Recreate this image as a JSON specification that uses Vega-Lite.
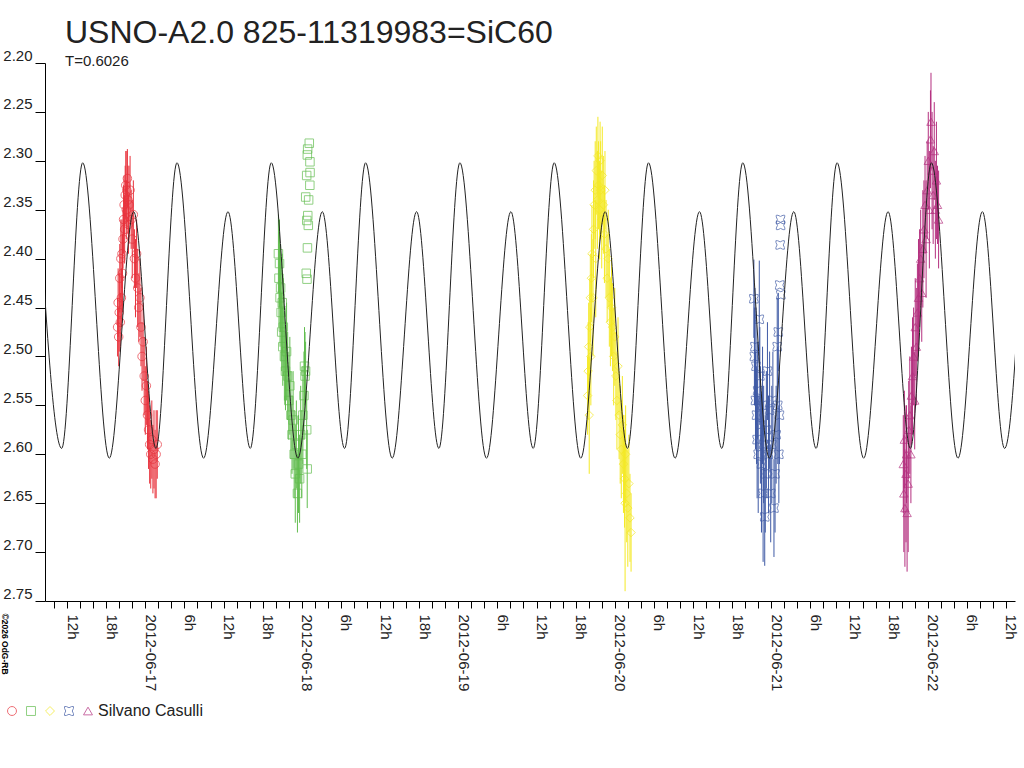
{
  "$schema": "https://vega.github.io/schema/vega-lite/v6.json",
  "width": 970,
  "height": 538,
  "autosize": "none",
  "padding": {"left": 45, "top": 63, "right": 9, "bottom": 167},
  "background": "white",
  "config": {"view": {"stroke": null}, "legend": {"columnPadding": 1, "labelOffset": 2, "symbolStrokeWidth": 1}},
  "title": {
    "text": "USNO-A2.0 825-11319983=SiC60",
    "subtitle": "T=0.6026",
    "anchor": "start",
    "frame": "group",
    "dx": 20,
    "offset": -22,
    "font": "Liberation Sans",
    "fontSize": 32,
    "fontWeight": "normal",
    "color": "#222",
    "subtitleFont": "Liberation Sans",
    "subtitleFontSize": 15,
    "subtitleColor": "#222",
    "subtitlePadding": 4
  },
  "datasets": {
    "curve": [
      {"t": "2012-06-16T07:45:30Z", "mag": 2.352},
      {"t": "2012-06-16T11:10:40Z", "mag": 2.594},
      {"t": "2012-06-16T14:23:54Z", "mag": 2.302},
      {"t": "2012-06-16T18:28:42Z", "mag": 2.604},
      {"t": "2012-06-16T22:13:12Z", "mag": 2.352},
      {"t": "2012-06-17T01:38:24Z", "mag": 2.594},
      {"t": "2012-06-17T04:51:38Z", "mag": 2.302},
      {"t": "2012-06-17T08:56:26Z", "mag": 2.604},
      {"t": "2012-06-17T12:40:56Z", "mag": 2.352},
      {"t": "2012-06-17T16:06:08Z", "mag": 2.594},
      {"t": "2012-06-17T19:19:23Z", "mag": 2.302},
      {"t": "2012-06-17T23:24:11Z", "mag": 2.604},
      {"t": "2012-06-18T03:08:41Z", "mag": 2.352},
      {"t": "2012-06-18T06:33:53Z", "mag": 2.594},
      {"t": "2012-06-18T09:47:07Z", "mag": 2.302},
      {"t": "2012-06-18T13:51:55Z", "mag": 2.604},
      {"t": "2012-06-18T17:36:25Z", "mag": 2.352},
      {"t": "2012-06-18T21:01:37Z", "mag": 2.594},
      {"t": "2012-06-19T00:14:52Z", "mag": 2.302},
      {"t": "2012-06-19T04:19:40Z", "mag": 2.604},
      {"t": "2012-06-19T08:04:10Z", "mag": 2.352},
      {"t": "2012-06-19T11:29:22Z", "mag": 2.594},
      {"t": "2012-06-19T14:42:36Z", "mag": 2.302},
      {"t": "2012-06-19T18:47:24Z", "mag": 2.604},
      {"t": "2012-06-19T22:31:54Z", "mag": 2.352},
      {"t": "2012-06-20T01:57:06Z", "mag": 2.594},
      {"t": "2012-06-20T05:10:20Z", "mag": 2.302},
      {"t": "2012-06-20T09:15:08Z", "mag": 2.604},
      {"t": "2012-06-20T12:59:38Z", "mag": 2.352},
      {"t": "2012-06-20T16:24:50Z", "mag": 2.594},
      {"t": "2012-06-20T19:38:05Z", "mag": 2.302},
      {"t": "2012-06-20T23:42:53Z", "mag": 2.604},
      {"t": "2012-06-21T03:27:23Z", "mag": 2.352},
      {"t": "2012-06-21T06:52:35Z", "mag": 2.594},
      {"t": "2012-06-21T10:05:49Z", "mag": 2.302},
      {"t": "2012-06-21T14:10:37Z", "mag": 2.604},
      {"t": "2012-06-21T17:55:07Z", "mag": 2.352},
      {"t": "2012-06-21T21:20:19Z", "mag": 2.594},
      {"t": "2012-06-22T00:33:34Z", "mag": 2.302},
      {"t": "2012-06-22T04:38:22Z", "mag": 2.604},
      {"t": "2012-06-22T08:22:52Z", "mag": 2.352},
      {"t": "2012-06-22T11:47:04Z", "mag": 2.594},
      {"t": "2012-06-22T15:01:18Z", "mag": 2.302}
    ],
    "obs": [
      {"obs": "N1", "t": "2012-06-16T19:45:00Z", "mag": 2.470, "lo": 2.440, "hi": 2.500},
      {"obs": "N1", "t": "2012-06-16T19:50:00Z", "mag": 2.445, "lo": 2.410, "hi": 2.480},
      {"obs": "N1", "t": "2012-06-16T19:55:00Z", "mag": 2.480, "lo": 2.450, "hi": 2.510},
      {"obs": "N1", "t": "2012-06-16T20:00:00Z", "mag": 2.455, "lo": 2.415, "hi": 2.495},
      {"obs": "N1", "t": "2012-06-16T20:05:00Z", "mag": 2.420, "lo": 2.385, "hi": 2.455},
      {"obs": "N1", "t": "2012-06-16T20:10:00Z", "mag": 2.465, "lo": 2.435, "hi": 2.495},
      {"obs": "N1", "t": "2012-06-16T20:15:00Z", "mag": 2.400, "lo": 2.360, "hi": 2.440},
      {"obs": "N1", "t": "2012-06-16T20:20:00Z", "mag": 2.440, "lo": 2.410, "hi": 2.470},
      {"obs": "N1", "t": "2012-06-16T20:25:00Z", "mag": 2.395, "lo": 2.360, "hi": 2.430},
      {"obs": "N1", "t": "2012-06-16T20:30:00Z", "mag": 2.415, "lo": 2.375, "hi": 2.455},
      {"obs": "N1", "t": "2012-06-16T20:35:00Z", "mag": 2.380, "lo": 2.350, "hi": 2.410},
      {"obs": "N1", "t": "2012-06-16T20:40:00Z", "mag": 2.360, "lo": 2.325, "hi": 2.395},
      {"obs": "N1", "t": "2012-06-16T20:45:00Z", "mag": 2.345, "lo": 2.315, "hi": 2.375},
      {"obs": "N1", "t": "2012-06-16T20:50:00Z", "mag": 2.370, "lo": 2.335, "hi": 2.405},
      {"obs": "N1", "t": "2012-06-16T20:55:00Z", "mag": 2.335, "lo": 2.305, "hi": 2.365},
      {"obs": "N1", "t": "2012-06-16T21:00:00Z", "mag": 2.325, "lo": 2.290, "hi": 2.360},
      {"obs": "N1", "t": "2012-06-16T21:05:00Z", "mag": 2.350, "lo": 2.320, "hi": 2.380},
      {"obs": "N1", "t": "2012-06-16T21:10:00Z", "mag": 2.330, "lo": 2.290, "hi": 2.370},
      {"obs": "N1", "t": "2012-06-16T21:15:00Z", "mag": 2.318, "lo": 2.288, "hi": 2.348},
      {"obs": "N1", "t": "2012-06-16T21:20:00Z", "mag": 2.340, "lo": 2.305, "hi": 2.375},
      {"obs": "N1", "t": "2012-06-16T21:25:00Z", "mag": 2.365, "lo": 2.335, "hi": 2.395},
      {"obs": "N1", "t": "2012-06-16T21:30:00Z", "mag": 2.345, "lo": 2.305, "hi": 2.385},
      {"obs": "N1", "t": "2012-06-16T21:40:00Z", "mag": 2.330, "lo": 2.295, "hi": 2.365},
      {"obs": "N1", "t": "2012-06-16T21:50:00Z", "mag": 2.360, "lo": 2.330, "hi": 2.390},
      {"obs": "N1", "t": "2012-06-16T22:00:00Z", "mag": 2.380, "lo": 2.340, "hi": 2.420},
      {"obs": "N1", "t": "2012-06-16T22:10:00Z", "mag": 2.355, "lo": 2.320, "hi": 2.390},
      {"obs": "N1", "t": "2012-06-16T22:20:00Z", "mag": 2.400, "lo": 2.370, "hi": 2.430},
      {"obs": "N1", "t": "2012-06-16T22:30:00Z", "mag": 2.420, "lo": 2.380, "hi": 2.460},
      {"obs": "N1", "t": "2012-06-16T22:40:00Z", "mag": 2.395, "lo": 2.360, "hi": 2.430},
      {"obs": "N1", "t": "2012-06-16T22:50:00Z", "mag": 2.430, "lo": 2.390, "hi": 2.470},
      {"obs": "N1", "t": "2012-06-16T23:00:00Z", "mag": 2.450, "lo": 2.415, "hi": 2.485},
      {"obs": "N1", "t": "2012-06-16T23:10:00Z", "mag": 2.440, "lo": 2.400, "hi": 2.480},
      {"obs": "N1", "t": "2012-06-16T23:20:00Z", "mag": 2.470, "lo": 2.430, "hi": 2.510},
      {"obs": "N1", "t": "2012-06-16T23:30:00Z", "mag": 2.500, "lo": 2.465, "hi": 2.535},
      {"obs": "N1", "t": "2012-06-16T23:40:00Z", "mag": 2.485, "lo": 2.445, "hi": 2.525},
      {"obs": "N1", "t": "2012-06-16T23:50:00Z", "mag": 2.520, "lo": 2.480, "hi": 2.560},
      {"obs": "N1", "t": "2012-06-17T00:00:00Z", "mag": 2.545, "lo": 2.510, "hi": 2.580},
      {"obs": "N1", "t": "2012-06-17T00:10:00Z", "mag": 2.530, "lo": 2.490, "hi": 2.570},
      {"obs": "N1", "t": "2012-06-17T00:20:00Z", "mag": 2.560, "lo": 2.525, "hi": 2.595},
      {"obs": "N1", "t": "2012-06-17T00:30:00Z", "mag": 2.575, "lo": 2.535, "hi": 2.615},
      {"obs": "N1", "t": "2012-06-17T00:40:00Z", "mag": 2.590, "lo": 2.550, "hi": 2.630},
      {"obs": "N1", "t": "2012-06-17T00:50:00Z", "mag": 2.600, "lo": 2.565, "hi": 2.635},
      {"obs": "N1", "t": "2012-06-17T01:00:00Z", "mag": 2.585, "lo": 2.545, "hi": 2.625},
      {"obs": "N1", "t": "2012-06-17T01:10:00Z", "mag": 2.605, "lo": 2.570, "hi": 2.640},
      {"obs": "N1", "t": "2012-06-17T01:20:00Z", "mag": 2.595, "lo": 2.555, "hi": 2.635},
      {"obs": "N1", "t": "2012-06-17T01:30:00Z", "mag": 2.610, "lo": 2.575, "hi": 2.645},
      {"obs": "N1", "t": "2012-06-17T01:40:00Z", "mag": 2.600, "lo": 2.555, "hi": 2.645},
      {"obs": "N1", "t": "2012-06-17T01:50:00Z", "mag": 2.590, "lo": 2.555, "hi": 2.625},
      {"obs": "N2", "t": "2012-06-17T20:25:00Z", "mag": 2.395, "lo": 2.355, "hi": 2.435},
      {"obs": "N2", "t": "2012-06-17T20:30:00Z", "mag": 2.420, "lo": 2.370, "hi": 2.470},
      {"obs": "N2", "t": "2012-06-17T20:35:00Z", "mag": 2.405, "lo": 2.360, "hi": 2.450},
      {"obs": "N2", "t": "2012-06-17T20:40:00Z", "mag": 2.440, "lo": 2.390, "hi": 2.490},
      {"obs": "N2", "t": "2012-06-17T20:45:00Z", "mag": 2.430, "lo": 2.385, "hi": 2.475},
      {"obs": "N2", "t": "2012-06-17T20:50:00Z", "mag": 2.455, "lo": 2.405, "hi": 2.505},
      {"obs": "N2", "t": "2012-06-17T20:55:00Z", "mag": 2.475, "lo": 2.435, "hi": 2.515},
      {"obs": "N2", "t": "2012-06-17T21:00:00Z", "mag": 2.445, "lo": 2.395, "hi": 2.495},
      {"obs": "N2", "t": "2012-06-17T21:05:00Z", "mag": 2.490, "lo": 2.450, "hi": 2.530},
      {"obs": "N2", "t": "2012-06-17T21:10:00Z", "mag": 2.470, "lo": 2.420, "hi": 2.520},
      {"obs": "N2", "t": "2012-06-17T21:20:00Z", "mag": 2.500, "lo": 2.455, "hi": 2.545},
      {"obs": "N2", "t": "2012-06-17T21:30:00Z", "mag": 2.515, "lo": 2.475, "hi": 2.555},
      {"obs": "N2", "t": "2012-06-17T21:40:00Z", "mag": 2.495, "lo": 2.445, "hi": 2.545},
      {"obs": "N2", "t": "2012-06-17T21:50:00Z", "mag": 2.520, "lo": 2.475, "hi": 2.565},
      {"obs": "N2", "t": "2012-06-17T22:00:00Z", "mag": 2.545, "lo": 2.505, "hi": 2.585},
      {"obs": "N2", "t": "2012-06-17T22:10:00Z", "mag": 2.530, "lo": 2.480, "hi": 2.580},
      {"obs": "N2", "t": "2012-06-17T22:20:00Z", "mag": 2.560, "lo": 2.515, "hi": 2.605},
      {"obs": "N2", "t": "2012-06-17T22:30:00Z", "mag": 2.580, "lo": 2.540, "hi": 2.620},
      {"obs": "N2", "t": "2012-06-17T22:40:00Z", "mag": 2.565, "lo": 2.515, "hi": 2.615},
      {"obs": "N2", "t": "2012-06-17T22:50:00Z", "mag": 2.600, "lo": 2.555, "hi": 2.645},
      {"obs": "N2", "t": "2012-06-17T23:00:00Z", "mag": 2.620, "lo": 2.570, "hi": 2.670},
      {"obs": "N2", "t": "2012-06-17T23:10:00Z", "mag": 2.590, "lo": 2.545, "hi": 2.635},
      {"obs": "N2", "t": "2012-06-17T23:20:00Z", "mag": 2.640, "lo": 2.600, "hi": 2.680},
      {"obs": "N2", "t": "2012-06-17T23:30:00Z", "mag": 2.610, "lo": 2.560, "hi": 2.660},
      {"obs": "N2", "t": "2012-06-17T23:40:00Z", "mag": 2.625, "lo": 2.580, "hi": 2.670},
      {"obs": "N2", "t": "2012-06-17T23:50:00Z", "mag": 2.580, "lo": 2.530, "hi": 2.630},
      {"obs": "N2", "t": "2012-06-18T00:00:00Z", "mag": 2.600, "lo": 2.555, "hi": 2.645},
      {"obs": "N2", "t": "2012-06-18T00:10:00Z", "mag": 2.560, "lo": 2.510, "hi": 2.610},
      {"obs": "N2", "t": "2012-06-18T00:20:00Z", "mag": 2.540, "lo": 2.495, "hi": 2.585},
      {"obs": "N2", "t": "2012-06-18T00:25:00Z", "mag": 2.510, "lo": 2.470, "hi": 2.550},
      {"obs": "N2", "t": "2012-06-18T00:30:00Z", "mag": 2.520, "lo": 2.475, "hi": 2.565},
      {"obs": "N2", "t": "2012-06-18T00:35:00Z", "mag": 2.515, "lo": 2.485, "hi": 2.545},
      {"obs": "N2", "t": "2012-06-18T00:45:00Z", "mag": 2.575, "lo": 2.535, "hi": 2.615},
      {"obs": "N2", "t": "2012-06-18T00:50:00Z", "mag": 2.615, "lo": 2.575, "hi": 2.655},
      {"obs": "N2", "t": "2012-06-18T00:36:00Z", "mag": 2.337, "lo": null, "hi": null},
      {"obs": "N2", "t": "2012-06-18T00:41:00Z", "mag": 2.415, "lo": null, "hi": null},
      {"obs": "N2", "t": "2012-06-18T00:45:00Z", "mag": 2.315, "lo": null, "hi": null},
      {"obs": "N2", "t": "2012-06-18T00:46:00Z", "mag": 2.361, "lo": null, "hi": null},
      {"obs": "N2", "t": "2012-06-18T00:48:00Z", "mag": 2.421, "lo": null, "hi": null},
      {"obs": "N2", "t": "2012-06-18T00:51:00Z", "mag": 2.294, "lo": null, "hi": null},
      {"obs": "N2", "t": "2012-06-18T00:52:00Z", "mag": 2.389, "lo": null, "hi": null},
      {"obs": "N2", "t": "2012-06-18T00:54:00Z", "mag": 2.288, "lo": null, "hi": null},
      {"obs": "N2", "t": "2012-06-18T00:55:00Z", "mag": 2.356, "lo": null, "hi": null},
      {"obs": "N2", "t": "2012-06-18T01:00:00Z", "mag": 2.366, "lo": null, "hi": null},
      {"obs": "N2", "t": "2012-06-18T01:03:00Z", "mag": 2.340, "lo": null, "hi": null},
      {"obs": "N2", "t": "2012-06-18T01:09:00Z", "mag": 2.282, "lo": null, "hi": null},
      {"obs": "N2", "t": "2012-06-18T01:15:00Z", "mag": 2.301, "lo": null, "hi": null},
      {"obs": "N2", "t": "2012-06-18T01:16:00Z", "mag": 2.312, "lo": null, "hi": null},
      {"obs": "N2", "t": "2012-06-18T01:14:00Z", "mag": 2.325, "lo": null, "hi": null},
      {"obs": "N3", "t": "2012-06-19T19:50:00Z", "mag": 2.540, "lo": 2.500, "hi": 2.580},
      {"obs": "N3", "t": "2012-06-19T19:55:00Z", "mag": 2.515, "lo": 2.465, "hi": 2.565},
      {"obs": "N3", "t": "2012-06-19T20:00:00Z", "mag": 2.490, "lo": 2.445, "hi": 2.535},
      {"obs": "N3", "t": "2012-06-19T20:05:00Z", "mag": 2.560, "lo": 2.500, "hi": 2.620},
      {"obs": "N3", "t": "2012-06-19T20:10:00Z", "mag": 2.470, "lo": 2.420, "hi": 2.520},
      {"obs": "N3", "t": "2012-06-19T20:15:00Z", "mag": 2.440, "lo": 2.395, "hi": 2.485},
      {"obs": "N3", "t": "2012-06-19T20:20:00Z", "mag": 2.500, "lo": 2.450, "hi": 2.550},
      {"obs": "N3", "t": "2012-06-19T20:25:00Z", "mag": 2.420, "lo": 2.375, "hi": 2.465},
      {"obs": "N3", "t": "2012-06-19T20:30:00Z", "mag": 2.395, "lo": 2.345, "hi": 2.445},
      {"obs": "N3", "t": "2012-06-19T20:40:00Z", "mag": 2.440, "lo": 2.380, "hi": 2.500},
      {"obs": "N3", "t": "2012-06-19T20:45:00Z", "mag": 2.370, "lo": 2.320, "hi": 2.420},
      {"obs": "N3", "t": "2012-06-19T20:50:00Z", "mag": 2.345, "lo": 2.300, "hi": 2.390},
      {"obs": "N3", "t": "2012-06-19T21:00:00Z", "mag": 2.330, "lo": 2.280, "hi": 2.380},
      {"obs": "N3", "t": "2012-06-19T21:05:00Z", "mag": 2.400, "lo": 2.340, "hi": 2.460},
      {"obs": "N3", "t": "2012-06-19T21:10:00Z", "mag": 2.310, "lo": 2.265, "hi": 2.355},
      {"obs": "N3", "t": "2012-06-19T21:20:00Z", "mag": 2.340, "lo": 2.290, "hi": 2.390},
      {"obs": "N3", "t": "2012-06-19T21:25:00Z", "mag": 2.295, "lo": 2.255, "hi": 2.335},
      {"obs": "N3", "t": "2012-06-19T21:30:00Z", "mag": 2.325, "lo": 2.280, "hi": 2.370},
      {"obs": "N3", "t": "2012-06-19T21:40:00Z", "mag": 2.350, "lo": 2.300, "hi": 2.400},
      {"obs": "N3", "t": "2012-06-19T21:45:00Z", "mag": 2.300, "lo": 2.260, "hi": 2.340},
      {"obs": "N3", "t": "2012-06-19T21:50:00Z", "mag": 2.330, "lo": 2.280, "hi": 2.380},
      {"obs": "N3", "t": "2012-06-19T22:00:00Z", "mag": 2.360, "lo": 2.310, "hi": 2.410},
      {"obs": "N3", "t": "2012-06-19T22:05:00Z", "mag": 2.315, "lo": 2.265, "hi": 2.365},
      {"obs": "N3", "t": "2012-06-19T22:15:00Z", "mag": 2.345, "lo": 2.295, "hi": 2.395},
      {"obs": "N3", "t": "2012-06-19T22:25:00Z", "mag": 2.375, "lo": 2.325, "hi": 2.425},
      {"obs": "N3", "t": "2012-06-19T22:30:00Z", "mag": 2.330, "lo": 2.290, "hi": 2.370},
      {"obs": "N3", "t": "2012-06-19T22:40:00Z", "mag": 2.390, "lo": 2.340, "hi": 2.440},
      {"obs": "N3", "t": "2012-06-19T22:50:00Z", "mag": 2.420, "lo": 2.375, "hi": 2.465},
      {"obs": "N3", "t": "2012-06-19T23:00:00Z", "mag": 2.400, "lo": 2.350, "hi": 2.450},
      {"obs": "N3", "t": "2012-06-19T23:10:00Z", "mag": 2.440, "lo": 2.390, "hi": 2.490},
      {"obs": "N3", "t": "2012-06-19T23:20:00Z", "mag": 2.465, "lo": 2.420, "hi": 2.510},
      {"obs": "N3", "t": "2012-06-19T23:30:00Z", "mag": 2.450, "lo": 2.400, "hi": 2.500},
      {"obs": "N3", "t": "2012-06-19T23:40:00Z", "mag": 2.470, "lo": 2.425, "hi": 2.515},
      {"obs": "N3", "t": "2012-06-19T23:50:00Z", "mag": 2.500, "lo": 2.450, "hi": 2.550},
      {"obs": "N3", "t": "2012-06-20T00:00:00Z", "mag": 2.480, "lo": 2.430, "hi": 2.530},
      {"obs": "N3", "t": "2012-06-20T00:10:00Z", "mag": 2.520, "lo": 2.475, "hi": 2.565},
      {"obs": "N3", "t": "2012-06-20T00:20:00Z", "mag": 2.545, "lo": 2.495, "hi": 2.595},
      {"obs": "N3", "t": "2012-06-20T00:30:00Z", "mag": 2.510, "lo": 2.460, "hi": 2.560},
      {"obs": "N3", "t": "2012-06-20T00:40:00Z", "mag": 2.560, "lo": 2.515, "hi": 2.605},
      {"obs": "N3", "t": "2012-06-20T00:50:00Z", "mag": 2.580, "lo": 2.530, "hi": 2.630},
      {"obs": "N3", "t": "2012-06-20T01:00:00Z", "mag": 2.595, "lo": 2.545, "hi": 2.645},
      {"obs": "N3", "t": "2012-06-20T01:10:00Z", "mag": 2.570, "lo": 2.520, "hi": 2.620},
      {"obs": "N3", "t": "2012-06-20T01:20:00Z", "mag": 2.610, "lo": 2.560, "hi": 2.660},
      {"obs": "N3", "t": "2012-06-20T01:30:00Z", "mag": 2.625, "lo": 2.575, "hi": 2.675},
      {"obs": "N3", "t": "2012-06-20T01:35:00Z", "mag": 2.650, "lo": 2.560, "hi": 2.740},
      {"obs": "N3", "t": "2012-06-20T01:40:00Z", "mag": 2.600, "lo": 2.550, "hi": 2.650},
      {"obs": "N3", "t": "2012-06-20T01:50:00Z", "mag": 2.640, "lo": 2.590, "hi": 2.690},
      {"obs": "N3", "t": "2012-06-20T02:00:00Z", "mag": 2.655, "lo": 2.595, "hi": 2.715},
      {"obs": "N3", "t": "2012-06-20T02:10:00Z", "mag": 2.630, "lo": 2.580, "hi": 2.680},
      {"obs": "N3", "t": "2012-06-20T02:20:00Z", "mag": 2.665, "lo": 2.620, "hi": 2.710},
      {"obs": "N3", "t": "2012-06-20T02:30:00Z", "mag": 2.680, "lo": 2.640, "hi": 2.720},
      {"obs": "N4", "t": "2012-06-20T21:20:00Z", "mag": 2.441, "lo": 2.401, "hi": 2.481},
      {"obs": "N4", "t": "2012-06-20T21:25:00Z", "mag": 2.500, "lo": 2.450, "hi": 2.550},
      {"obs": "N4", "t": "2012-06-20T21:30:00Z", "mag": 2.490, "lo": 2.430, "hi": 2.550},
      {"obs": "N4", "t": "2012-06-20T21:35:00Z", "mag": 2.545, "lo": 2.495, "hi": 2.595},
      {"obs": "N4", "t": "2012-06-20T21:40:00Z", "mag": 2.510, "lo": 2.450, "hi": 2.570},
      {"obs": "N4", "t": "2012-06-20T21:45:00Z", "mag": 2.560, "lo": 2.510, "hi": 2.610},
      {"obs": "N4", "t": "2012-06-20T21:50:00Z", "mag": 2.585, "lo": 2.525, "hi": 2.645},
      {"obs": "N4", "t": "2012-06-20T21:55:00Z", "mag": 2.535, "lo": 2.485, "hi": 2.585},
      {"obs": "N4", "t": "2012-06-20T22:00:00Z", "mag": 2.600, "lo": 2.540, "hi": 2.660},
      {"obs": "N4", "t": "2012-06-20T22:10:00Z", "mag": 2.462, "lo": 2.402, "hi": 2.522},
      {"obs": "N4", "t": "2012-06-20T22:15:00Z", "mag": 2.520, "lo": 2.470, "hi": 2.570},
      {"obs": "N4", "t": "2012-06-20T22:20:00Z", "mag": 2.570, "lo": 2.510, "hi": 2.630},
      {"obs": "N4", "t": "2012-06-20T22:30:00Z", "mag": 2.610, "lo": 2.540, "hi": 2.680},
      {"obs": "N4", "t": "2012-06-20T22:40:00Z", "mag": 2.550, "lo": 2.490, "hi": 2.610},
      {"obs": "N4", "t": "2012-06-20T22:45:00Z", "mag": 2.640, "lo": 2.570, "hi": 2.710},
      {"obs": "N4", "t": "2012-06-20T22:50:00Z", "mag": 2.590, "lo": 2.530, "hi": 2.650},
      {"obs": "N4", "t": "2012-06-20T23:00:00Z", "mag": 2.664, "lo": 2.614, "hi": 2.714},
      {"obs": "N4", "t": "2012-06-20T23:05:00Z", "mag": 2.620, "lo": 2.560, "hi": 2.680},
      {"obs": "N4", "t": "2012-06-20T23:15:00Z", "mag": 2.575, "lo": 2.515, "hi": 2.635},
      {"obs": "N4", "t": "2012-06-20T23:25:00Z", "mag": 2.515, "lo": 2.465, "hi": 2.565},
      {"obs": "N4", "t": "2012-06-20T23:35:00Z", "mag": 2.600, "lo": 2.540, "hi": 2.660},
      {"obs": "N4", "t": "2012-06-20T23:45:00Z", "mag": 2.555, "lo": 2.495, "hi": 2.615},
      {"obs": "N4", "t": "2012-06-20T23:55:00Z", "mag": 2.640, "lo": 2.590, "hi": 2.690},
      {"obs": "N4", "t": "2012-06-21T00:05:00Z", "mag": 2.590, "lo": 2.530, "hi": 2.650},
      {"obs": "N4", "t": "2012-06-21T00:15:00Z", "mag": 2.545, "lo": 2.495, "hi": 2.595},
      {"obs": "N4", "t": "2012-06-21T00:25:00Z", "mag": 2.655, "lo": 2.605, "hi": 2.705},
      {"obs": "N4", "t": "2012-06-21T00:35:00Z", "mag": 2.620, "lo": 2.560, "hi": 2.680},
      {"obs": "N4", "t": "2012-06-21T00:45:00Z", "mag": 2.580, "lo": 2.530, "hi": 2.630},
      {"obs": "N4", "t": "2012-06-21T00:55:00Z", "mag": 2.490, "lo": 2.440, "hi": 2.540},
      {"obs": "N4", "t": "2012-06-21T01:00:00Z", "mag": 2.550, "lo": 2.490, "hi": 2.610},
      {"obs": "N4", "t": "2012-06-21T01:05:00Z", "mag": 2.475, "lo": 2.435, "hi": 2.515},
      {"obs": "N4", "t": "2012-06-21T01:10:00Z", "mag": 2.600, "lo": 2.550, "hi": 2.650},
      {"obs": "N4", "t": "2012-06-21T01:15:00Z", "mag": 2.560, "lo": 2.510, "hi": 2.610},
      {"obs": "N4", "t": "2012-06-21T01:25:00Z", "mag": 2.360, "lo": null, "hi": null},
      {"obs": "N4", "t": "2012-06-21T01:26:00Z", "mag": 2.366, "lo": null, "hi": null},
      {"obs": "N4", "t": "2012-06-21T01:22:00Z", "mag": 2.386, "lo": null, "hi": null},
      {"obs": "N4", "t": "2012-06-21T01:18:00Z", "mag": 2.427, "lo": null, "hi": null},
      {"obs": "N4", "t": "2012-06-21T01:28:00Z", "mag": 2.437, "lo": null, "hi": null},
      {"obs": "N5", "t": "2012-06-21T20:15:00Z", "mag": 2.610, "lo": 2.560, "hi": 2.660},
      {"obs": "N5", "t": "2012-06-21T20:20:00Z", "mag": 2.640, "lo": 2.580, "hi": 2.700},
      {"obs": "N5", "t": "2012-06-21T20:25:00Z", "mag": 2.585, "lo": 2.535, "hi": 2.635},
      {"obs": "N5", "t": "2012-06-21T20:30:00Z", "mag": 2.655, "lo": 2.595, "hi": 2.715},
      {"obs": "N5", "t": "2012-06-21T20:40:00Z", "mag": 2.620, "lo": 2.550, "hi": 2.690},
      {"obs": "N5", "t": "2012-06-21T20:45:00Z", "mag": 2.600, "lo": 2.550, "hi": 2.650},
      {"obs": "N5", "t": "2012-06-21T20:50:00Z", "mag": 2.660, "lo": 2.600, "hi": 2.720},
      {"obs": "N5", "t": "2012-06-21T21:00:00Z", "mag": 2.630, "lo": 2.560, "hi": 2.700},
      {"obs": "N5", "t": "2012-06-21T21:05:00Z", "mag": 2.575, "lo": 2.525, "hi": 2.625},
      {"obs": "N5", "t": "2012-06-21T21:15:00Z", "mag": 2.560, "lo": 2.500, "hi": 2.620},
      {"obs": "N5", "t": "2012-06-21T21:25:00Z", "mag": 2.600, "lo": 2.550, "hi": 2.650},
      {"obs": "N5", "t": "2012-06-21T21:30:00Z", "mag": 2.540, "lo": 2.490, "hi": 2.590},
      {"obs": "N5", "t": "2012-06-21T21:40:00Z", "mag": 2.520, "lo": 2.460, "hi": 2.580},
      {"obs": "N5", "t": "2012-06-21T21:50:00Z", "mag": 2.500, "lo": 2.450, "hi": 2.550},
      {"obs": "N5", "t": "2012-06-21T22:00:00Z", "mag": 2.545, "lo": 2.495, "hi": 2.595},
      {"obs": "N5", "t": "2012-06-21T22:05:00Z", "mag": 2.470, "lo": 2.420, "hi": 2.520},
      {"obs": "N5", "t": "2012-06-21T22:15:00Z", "mag": 2.490, "lo": 2.430, "hi": 2.550},
      {"obs": "N5", "t": "2012-06-21T22:25:00Z", "mag": 2.455, "lo": 2.405, "hi": 2.505},
      {"obs": "N5", "t": "2012-06-21T22:35:00Z", "mag": 2.440, "lo": 2.380, "hi": 2.500},
      {"obs": "N5", "t": "2012-06-21T22:45:00Z", "mag": 2.420, "lo": 2.370, "hi": 2.470},
      {"obs": "N5", "t": "2012-06-21T22:55:00Z", "mag": 2.400, "lo": 2.350, "hi": 2.450},
      {"obs": "N5", "t": "2012-06-21T23:05:00Z", "mag": 2.435, "lo": 2.385, "hi": 2.485},
      {"obs": "N5", "t": "2012-06-21T23:15:00Z", "mag": 2.390, "lo": 2.330, "hi": 2.450},
      {"obs": "N5", "t": "2012-06-21T23:25:00Z", "mag": 2.370, "lo": 2.320, "hi": 2.420},
      {"obs": "N5", "t": "2012-06-21T23:35:00Z", "mag": 2.345, "lo": 2.295, "hi": 2.395},
      {"obs": "N5", "t": "2012-06-21T23:45:00Z", "mag": 2.380, "lo": 2.320, "hi": 2.440},
      {"obs": "N5", "t": "2012-06-21T23:55:00Z", "mag": 2.330, "lo": 2.280, "hi": 2.380},
      {"obs": "N5", "t": "2012-06-22T00:05:00Z", "mag": 2.300, "lo": 2.250, "hi": 2.350},
      {"obs": "N5", "t": "2012-06-22T00:15:00Z", "mag": 2.350, "lo": 2.290, "hi": 2.410},
      {"obs": "N5", "t": "2012-06-22T00:25:00Z", "mag": 2.278, "lo": 2.228, "hi": 2.328},
      {"obs": "N5", "t": "2012-06-22T00:30:00Z", "mag": 2.260, "lo": 2.210, "hi": 2.310},
      {"obs": "N5", "t": "2012-06-22T00:40:00Z", "mag": 2.310, "lo": 2.250, "hi": 2.370},
      {"obs": "N5", "t": "2012-06-22T00:50:00Z", "mag": 2.335, "lo": 2.285, "hi": 2.385},
      {"obs": "N5", "t": "2012-06-22T01:00:00Z", "mag": 2.290, "lo": 2.240, "hi": 2.340},
      {"obs": "N5", "t": "2012-06-22T01:10:00Z", "mag": 2.350, "lo": 2.300, "hi": 2.400},
      {"obs": "N5", "t": "2012-06-22T01:20:00Z", "mag": 2.320, "lo": 2.260, "hi": 2.380},
      {"obs": "N5", "t": "2012-06-22T01:30:00Z", "mag": 2.345, "lo": 2.305, "hi": 2.385},
      {"obs": "N5", "t": "2012-06-22T01:40:00Z", "mag": 2.360, "lo": 2.310, "hi": 2.410}
    ]
  },
  "encoding": {
    "x": {
      "field": "t",
      "type": "temporal",
      "scale": {"type": "utc", "domain": [1339835820000, 1340371380000]},
      "axis": {
        "title": null,
        "grid": false,
        "values": [
          1339840800000, 1339848000000, 1339855200000, 1339862400000, 1339869600000, 1339876800000, 1339884000000,
          1339891200000, 1339898400000, 1339905600000, 1339912800000, 1339920000000, 1339927200000, 1339934400000, 1339941600000, 1339948800000, 1339956000000, 1339963200000, 1339970400000,
          1339977600000, 1339984800000, 1339992000000, 1339999200000, 1340006400000, 1340013600000, 1340020800000, 1340028000000, 1340035200000, 1340042400000, 1340049600000, 1340056800000,
          1340064000000, 1340071200000, 1340078400000, 1340085600000, 1340092800000, 1340100000000, 1340107200000, 1340114400000, 1340121600000, 1340128800000, 1340136000000, 1340143200000,
          1340150400000, 1340157600000, 1340164800000, 1340172000000, 1340179200000, 1340186400000, 1340193600000, 1340200800000, 1340208000000, 1340215200000, 1340222400000, 1340229600000,
          1340236800000, 1340244000000, 1340251200000, 1340258400000, 1340265600000, 1340272800000, 1340280000000, 1340287200000, 1340294400000, 1340301600000, 1340308800000, 1340316000000,
          1340323200000, 1340330400000, 1340337600000, 1340344800000, 1340352000000, 1340359200000, 1340366400000
        ],
        "labelExpr": "utchours(datum.value) == 0 ? utcFormat(datum.value, '%Y-%m-%d') : (utchours(datum.value) % 6 == 0 ? utchours(datum.value) + 'h' : '')",
        "labelAngle": 90,
        "labelAlign": "left",
        "labelBaseline": "alphabetic",
        "labelPadding": 6,
        "labelOverlap": false,
        "labelFont": "Liberation Sans",
        "labelFontSize": 15,
        "labelColor": "#222",
        "tickSize": 7,
        "tickColor": "#000",
        "domainColor": "#000"
      }
    },
    "y": {
      "field": "mag",
      "type": "quantitative",
      "scale": {"domain": [2.2, 2.75], "reverse": true, "zero": false, "nice": false},
      "axis": {
        "values": [2.2, 2.25, 2.3, 2.35, 2.4, 2.45, 2.5, 2.55, 2.6, 2.65, 2.7, 2.75],
        "format": ".2f",
        "grid": false,
        "tickSize": 10,
        "tickColor": "#000",
        "domainColor": "#000",
        "labelPadding": 3,
        "labelBaseline": "bottom",
        "labelFont": "Liberation Sans",
        "labelFontSize": 15,
        "labelColor": "#222",
        "title": "©2026 OdG-RB",
        "titleAngle": 90,
        "titleX": -44,
        "titleY": 550,
        "titleAlign": "left",
        "titleBaseline": "alphabetic",
        "titleFont": "Liberation Sans",
        "titleFontSize": 8.5,
        "titleFontWeight": "bold",
        "titleColor": "#000"
      }
    }
  },
  "layer": [
    {
      "data": {"name": "obs"},
      "transform": [{"filter": "isValid(datum.lo) && datum.obs == 'N1'"}],
      "mark": {"type": "rule", "strokeWidth": 1, "color": "#e8323c"},
      "encoding": {
        "y": {"field": "lo", "type": "quantitative", "title": "©2026 OdG-RB", "scale": {"domain": [2.2, 2.75], "reverse": true, "zero": false, "nice": false}},
        "y2": {"field": "hi"}
      }
    },
    {
      "data": {"name": "obs"},
      "transform": [{"filter": "isValid(datum.lo) && datum.obs == 'N2'"}],
      "mark": {"type": "rule", "strokeWidth": 1, "color": "#62bd4f"},
      "encoding": {
        "y": {"field": "lo", "type": "quantitative", "title": "©2026 OdG-RB", "scale": {"domain": [2.2, 2.75], "reverse": true, "zero": false, "nice": false}},
        "y2": {"field": "hi"}
      }
    },
    {
      "data": {"name": "obs"},
      "transform": [{"filter": "isValid(datum.lo) && datum.obs == 'N3'"}],
      "mark": {"type": "rule", "strokeWidth": 1, "color": "#f4e925"},
      "encoding": {
        "y": {"field": "lo", "type": "quantitative", "title": "©2026 OdG-RB", "scale": {"domain": [2.2, 2.75], "reverse": true, "zero": false, "nice": false}},
        "y2": {"field": "hi"}
      }
    },
    {
      "data": {"name": "obs"},
      "transform": [{"filter": "isValid(datum.lo) && datum.obs == 'N4'"}],
      "mark": {"type": "rule", "strokeWidth": 1, "color": "#3f5aa5"},
      "encoding": {
        "y": {"field": "lo", "type": "quantitative", "title": "©2026 OdG-RB", "scale": {"domain": [2.2, 2.75], "reverse": true, "zero": false, "nice": false}},
        "y2": {"field": "hi"}
      }
    },
    {
      "data": {"name": "obs"},
      "transform": [{"filter": "isValid(datum.lo) && datum.obs == 'N5'"}],
      "mark": {"type": "rule", "strokeWidth": 1, "color": "#b4307f"},
      "encoding": {
        "y": {"field": "lo", "type": "quantitative", "title": "©2026 OdG-RB", "scale": {"domain": [2.2, 2.75], "reverse": true, "zero": false, "nice": false}},
        "y2": {"field": "hi"}
      }
    },
    {
      "data": {"name": "obs"},
      "mark": {"type": "point", "filled": false, "strokeWidth": 1, "size": 72},
      "encoding": {
        "color": {
          "field": "obs",
          "type": "nominal",
          "scale": {"domain": ["N1", "N2", "N3", "N4", "N5"], "range": ["#e8323c", "#62bd4f", "#f4e925", "#3f5aa5", "#b4307f"]},
          "legend": {
            "orient": "none",
            "legendX": -41,
            "legendY": 640,
            "direction": "horizontal",
            "title": null,
            "labelExpr": "datum.value == 'N5' ? '\u00a0Silvano Casulli' : ''",
            "symbolSize": 80,
            "symbolStrokeWidth": 1,
            "labelOffset": 2,
            "columnPadding": 1,
            "labelFont": "Liberation Sans",
            "labelFontSize": 16,
            "labelColor": "#222"
          }
        },
        "shape": {
          "field": "obs",
          "type": "nominal",
          "scale": {
            "domain": ["N1", "N2", "N3", "N4", "N5"],
            "range": ["circle", "square", "diamond", "M-1,-1L-0.6,-1Q0,-0.45 0.6,-1L1,-1L1,-0.6Q0.45,0 1,0.6L1,1L0.6,1Q0,0.45 -0.6,1L-1,1L-1,0.6Q-0.45,0 -1,-0.6Z", "triangle-up"]
          },
          "legend": {
            "orient": "none",
            "legendX": -41,
            "legendY": 640,
            "direction": "horizontal",
            "title": null,
            "labelExpr": "datum.value == 'N5' ? '\u00a0Silvano Casulli' : ''",
            "symbolSize": 80,
            "symbolStrokeWidth": 1,
            "labelOffset": 2,
            "columnPadding": 1,
            "labelFont": "Liberation Sans",
            "labelFontSize": 16,
            "labelColor": "#222"
          }
        }
      }
    },
    {
      "data": {"name": "curve"},
      "mark": {"type": "line", "interpolate": "monotone", "color": "#222", "strokeWidth": 1, "clip": true},
      "encoding": {}
    }
  ]
}
